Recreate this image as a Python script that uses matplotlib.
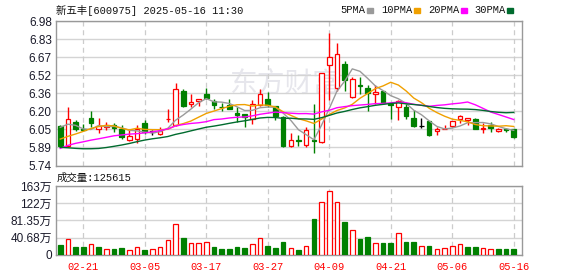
import matplotlib
matplotlib.use("Agg")
import matplotlib.pyplot as plt
from matplotlib.patches import Rectangle
import numpy as np
import pandas as pd

# 新五丰 日K 2025-02-18 ~ 2025-05-16
dates = ["02-18", "02-19", "02-20", "02-21", "02-24", "02-25", "02-26", "02-27", "02-28",
         "03-03", "03-04", "03-05", "03-06", "03-07", "03-10", "03-11", "03-12", "03-13",
         "03-14", "03-17", "03-18", "03-19", "03-20", "03-21", "03-24", "03-25", "03-26",
         "03-27", "03-28", "03-31", "04-01", "04-02", "04-03", "04-07", "04-08", "04-09",
         "04-10", "04-11", "04-14", "04-15", "04-16", "04-17", "04-18", "04-21", "04-22",
         "04-23", "04-24", "04-25", "04-28", "04-29", "04-30", "05-06", "05-07", "05-08",
         "05-09", "05-12", "05-13", "05-14", "05-15", "05-16"]

opens = [6.08, 5.907, 6.113, 6.05, 6.147, 6.05, 6.074, 6.085, 6.05, 5.955,
         5.97, 6.102, 6.03, 6.01, 6.135, 6.09, 6.379, 6.265, 6.293, 6.354,
         6.296, 6.245, 6.256, 6.193, 6.182, 6.142, 6.256, 6.311, 6.25, 6.159,
         5.904, 5.96, 5.913, 5.959, 5.938, 6.60, 6.405, 6.611, 6.328, 6.43,
         6.405, 6.354, 6.382, 6.265, 6.239, 6.239, 6.147, 6.08, 6.124, 6.036,
         6.053, 6.079, 6.142, 6.13, 6.139, 6.055, 6.085, 6.035, 6.052, 6.05]
highs = [6.09, 6.239, 6.13, 6.10, 6.21, 6.147, 6.113, 6.108, 6.085, 6.05,
         6.085, 6.13, 6.045, 6.073, 6.222, 6.445, 6.396, 6.354, 6.313, 6.402,
         6.313, 6.274, 6.308, 6.245, 6.182, 6.302, 6.399, 6.371, 6.25, 6.165,
         6.016, 6.002, 6.073, 6.268, 6.531, 6.88, 6.788, 6.634, 6.497, 6.497,
         6.428, 6.428, 6.382, 6.274, 6.302, 6.268, 6.216, 6.147, 6.124, 6.067,
         6.085, 6.124, 6.173, 6.145, 6.147, 6.102, 6.11, 6.058, 6.062, 6.056]
lows = [5.90, 5.896, 6.033, 6.039, 6.073, 6.016, 6.045, 6.027, 5.964, 5.95,
        5.93, 6.01, 6.005, 6.002, 6.116, 6.08, 6.245, 6.239, 6.25, 6.308,
        6.228, 6.21, 6.222, 6.113, 6.073, 6.096, 6.25, 6.239, 6.13, 5.90,
        5.90, 5.907, 5.896, 5.85, 5.93, 6.302, 6.376, 6.376, 6.319, 6.354,
        6.205, 6.268, 6.268, 6.14, 6.13, 6.142, 6.073, 6.062, 5.993, 6.005,
        6.05, 6.073, 6.107, 6.085, 6.052, 6.022, 6.03, 6.025, 6.03, 5.98]
closes = [5.907, 6.136, 6.05, 6.045, 6.107, 6.079, 6.085, 6.062, 5.985, 5.997,
          6.056, 6.03, 6.03, 6.039, 6.142, 6.40, 6.253, 6.285, 6.313, 6.319,
          6.262, 6.24, 6.228, 6.17, 6.159, 6.268, 6.354, 6.256, 6.165, 5.907,
          5.956, 5.95, 6.045, 5.947, 6.531, 6.668, 6.694, 6.474, 6.479, 6.425,
          6.365, 6.371, 6.274, 6.262, 6.291, 6.165, 6.08, 6.08, 6.0, 6.053,
          6.056, 6.119, 6.165, 6.145, 6.055, 6.06, 6.062, 6.055, 6.045, 5.987]
# 成交量 (万手)
volumes = [22.9, 37.1, 18.2, 18.2, 24.5, 18.2, 13.4, 13.4, 15.0, 10.3,
           17.4, 11.1, 13.4, 17.4, 34.7, 71.8, 40.3, 26.8, 26.8, 30.0,
           18.2, 13.4, 13.4, 18.2, 15.8, 24.5, 39.5, 21.3, 15.8, 30.0,
           15.8, 11.1, 20.5, 84.5, 124.0, 150.0, 124.0, 77.4, 57.7, 37.2,
           41.9, 27.7, 27.7, 27.7, 51.4, 30.1, 30.1, 19.8, 20.5, 13.4,
           15.8, 19.8, 24.5, 18.2, 18.2, 15.8, 14.2, 14.2, 14.2, 12.5615]
# 区间之前的收盘价, 用来算均线
history = [6.25, 6.2, 6.15, 6.1, 6.0, 5.85, 5.75, 5.65, 5.6, 5.59,
           5.62, 5.7, 5.78, 5.82, 5.85, 5.83, 5.8, 5.84, 5.86, 5.97,
           5.9, 5.85, 5.82, 5.86, 5.9, 6.0, 6.1, 6.2, 6.13]

date_labels = ["02-21", "03-05", "03-17", "03-27", "04-09", "04-21", "05-06", "05-16"]
price_labels = ["5.74", "5.89", "6.05", "6.20", "6.36", "6.52", "6.67", "6.83", "6.98"]
vol_ticks = [0, 40.68, 81.35, 122.0, 162.7]
vol_labels = ["0", "40.68万", "81.35万", "122万", "163万"]
ma_periods = [5, 10, 20, 30]
ma_names = ["5PMA", "10PMA", "20PMA", "30PMA"]

RED = "#ff0000"
GREEN = "#008000"
ma_colors = ["#9a9a9a", "#f0a000", "#ff00ff", "#006b2e"]
mono = ["Liberation Mono", "Noto Sans CJK SC"]
sans = ["Liberation Sans", "Noto Sans CJK SC"]

o = np.array(opens)
h = np.array(highs)
l = np.array(lows)
c = np.array(closes)
x = np.arange(len(c))
prev = np.concatenate([[history[-1]], c[:-1]])

candle_col = np.where(c > o, RED, np.where(c < o, GREEN, "#000000"))
face_col = np.where(c > o, "white", candle_col)
vol_up = c >= prev

W, H = 578, 276
fig = plt.figure(figsize=(W / 100, H / 100), dpi=100)
ax = fig.add_axes([56 / W, 1 - 165.5 / H, 466 / W, 144.5 / H])
axv = fig.add_axes([56 / W, 1 - 254.7 / H, 466 / W, 68.7 / H])

xlim = (-0.55, 60.08)
tick_pos = [dates.index(d) for d in date_labels]

# 水印
ax.text(0.49, 0.55, "东方财富", transform=ax.transAxes, fontsize=20,
        color="#e6e6ec", ha="center", va="center", family=sans, zorder=0)

# K线
ax.vlines(x, l, h, colors=candle_col, lw=1, zorder=2)
body = np.abs(c - o)
ax.bar(x, np.maximum(body, 0.002), bottom=np.minimum(o, c), width=0.6,
       color=face_col, edgecolor=candle_col, linewidth=0.9, zorder=3)

# 均线
all_close = pd.Series(history + closes)
for n, col in zip(ma_periods, ma_colors):
    ma = all_close.rolling(n).mean().iloc[len(history):].values
    ax.plot(x, ma, color=col, lw=1, zorder=4)

ax.set_xlim(*xlim)
ax.set_ylim(5.74, 6.98)
ax.set_yticks(np.linspace(5.74, 6.98, 9), price_labels)
ax.set_xticks([])
ax.grid(axis="y", color="#d4d4d4", lw=1)
for p in tick_pos:
    ax.axvline(p, color="#cccccc", lw=0.9, ls=(0, (4, 3)), zorder=1)

# 成交量
vcol = np.where(vol_up, RED, GREEN)
vface = np.where(vol_up, "white", GREEN)
axv.bar(x, volumes, width=0.6, color=vface, edgecolor=vcol, linewidth=0.9, zorder=3)
axv.set_xlim(*xlim)
axv.set_ylim(0, vol_ticks[-1])
axv.set_yticks(vol_ticks, vol_labels)
axv.grid(axis="y", color="#d4d4d4", lw=1)
for p in tick_pos:
    axv.axvline(p, color="#cccccc", lw=0.9, ls=(0, (4, 3)), zorder=1)
axv.set_xticks(tick_pos, date_labels)

for a in (ax, axv):
    a.set_axisbelow(True)
    for s in a.spines.values():
        s.set_color("#999999")
        s.set_linewidth(1)
    a.tick_params(length=0, pad=3)
    for t in a.get_yticklabels():
        t.set_family(sans)
        t.set_fontsize(8.5)
        t.set_color("#1a1a2a")

for t in axv.get_xticklabels():
    t.set_family(mono)
    t.set_fontsize(7.5)
    t.set_color(RED)
axv.tick_params(axis="x", pad=5)

# 标题、图例、成交量文字
fig.text(56 / W, 1 - 10 / H, "新五丰[600975] 2025-05-16 11:30", family=mono,
         fontsize=7.5, va="center", ha="left", color="#111111")
leg_x = [340, 381, 428, 474]
for name, col, lx in zip(ma_names, ma_colors, leg_x):
    fig.text(lx / W, 1 - 10 / H, name, family=mono, fontsize=7.5,
             va="center", ha="left", color="#111111")
    sq_x = lx + len(name) * 6.25 + 2
    fig.patches.append(Rectangle((sq_x / W, 1 - 12.5 / H), 6 / W, 5 / H,
                                 transform=fig.transFigure, color=col))
fig.text(57 / W, 1 - 177.5 / H, "成交量:125615", family=mono, fontsize=7.5,
         va="center", ha="left", color="#111111")

fig.savefig("out.png", dpi=100)
